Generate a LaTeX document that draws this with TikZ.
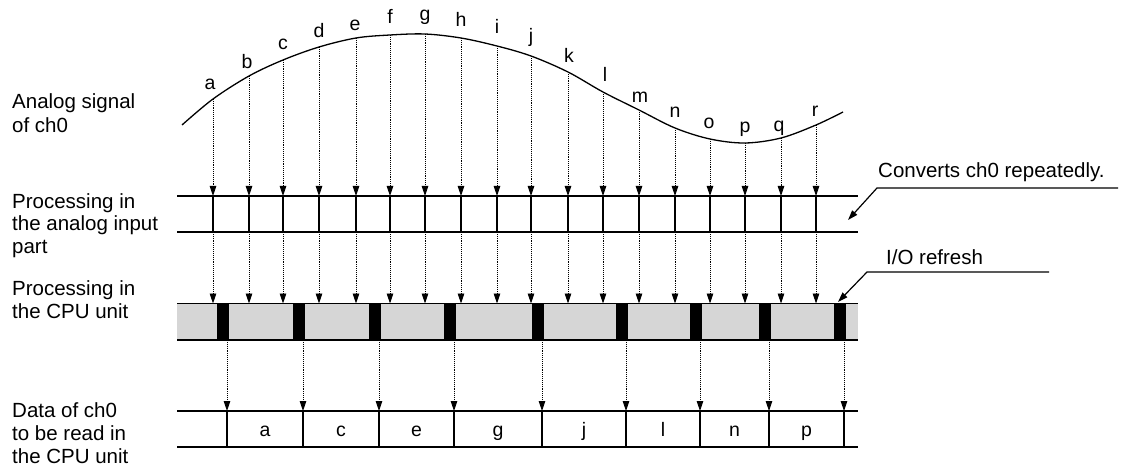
\documentclass[tikz,border=0pt]{standalone}
\usepackage{fontspec}
\setmainfont{Liberation Sans}
\usetikzlibrary{arrows.meta}
\definecolor{cpugray}{HTML}{D6D6D6}
\begin{document}
\begin{tikzpicture}[x=1pt,y=-1pt,
  lbl/.style={font=\fontsize{20.5}{23}\selectfont, align=left, anchor=base west, inner sep=0pt},
  smp/.style={font=\fontsize{19.5}{20}\selectfont, anchor=base, inner sep=0pt},
  rule/.style={line width=1.3pt, black},
  dotarrow/.style={densely dotted, line width=0.9pt, -{Triangle[length=10pt,width=6.5pt]}},
  leader/.style={line width=1.2pt, -{Triangle[length=10pt,width=6.5pt]}}
]
\useasboundingbox (0,0) rectangle (1127,473);

% left labels (anchored at the baseline of the last line)
\node[lbl] (t1) at (12,133) {Analog signal\\[1pt]of ch0};
\node[lbl] (t2) at (12,254) {Processing in\\the analog input\\part};
\node[lbl] (t3) at (12,318) {Processing in\\the CPU unit};
\node[lbl] (t4) at (12,463) {Data of ch0\\to be read in\\the CPU unit};

% analog curve
\draw[line width=1.3pt] plot[smooth, tension=0.55] coordinates {
 (182,125) (213,99) (249,76) (283,60) (319,47) (356,38) (390,35) (425,34)
 (461,38) (497,46) (531,56) (568,72) (603,92) (639,110) (675,128) (710,139)
 (745,143) (781,138) (816,125) (843,112)};

% CPU row background
\fill[cpugray] (177,303.5) rectangle (858,340);

% rows
\draw[rule] (177,196) -- (858,196);
\draw[rule] (177,232) -- (858,232);
\draw[rule] (177,303.5) -- (858,303.5);
\draw[rule] (177,340) -- (858,340);
\draw[rule] (177,411) -- (858,411);
\draw[rule] (177,447) -- (858,447);

% samples
\foreach \x/\y/\l/\b/\lx in {
 213/99/a/90/210, 249/76/b/69/247, 283/60/c/50/283, 319/47/d/38/319,
 356/38/e/31/355, 390/35/f/24/390, 425/34/g/21/425, 461/38/h/27/461,
 497/46/i/34/497, 531/56/j/43/531, 568/72/k/63/569, 603/92/l/82/605,
 639/110/m/103/640, 675/128/n/118/675, 710/139/o/129/709, 745/143/p/133/745,
 781/138/q/132/779, 816/125/r/117/815} {
  \coordinate (c\l) at (\x,\y);
  \coordinate (p\l) at (\x,196);
  \coordinate (q\l) at (\x,232);
  \coordinate (u\l) at (\x,303.5);
  \node[smp] (L\l) at (\lx,\b) {\l};
  \draw[dotarrow] (c\l) -- (p\l);
  \draw[rule] (p\l) -- (q\l);
  \draw[dotarrow] (q\l) -- (u\l);
}

% I/O refresh bars and transfers
\foreach \x [count=\i] in {227,303,379,454,542,626,700,769,844} {
  \fill[black] (\x-10.5,303.5) rectangle (\x+1.5,340);
  \coordinate (b\i) at (\x,340);
  \coordinate (d\i) at (\x,411);
  \coordinate (e\i) at (\x,447);
  \draw[dotarrow] (b\i) -- (d\i);
  \draw[rule] (d\i) -- (e\i);
}

% data values
\foreach \x/\l in {265/a,341/c,416.5/e,498/g,584/j,663/l,734.5/n,806.5/p} {
  \node[smp] (D\l) at (\x,436) {\l};
}

% callouts
\node[lbl] (conv) at (878,178) {Converts ch0 repeatedly.};
\coordinate (convR) at (1118,188);
\coordinate (convK) at (877,188);
\coordinate (convT) at (848,220);
\draw[leader] (convR) -- (convK) -- (convT);

\node[lbl] (io) at (886,265) {I/O refresh};
\coordinate (ioR) at (1049,272);
\coordinate (ioK) at (867,272);
\coordinate (ioT) at (838,302);
\draw[leader] (ioR) -- (ioK) -- (ioT);
\end{tikzpicture}
\end{document}
